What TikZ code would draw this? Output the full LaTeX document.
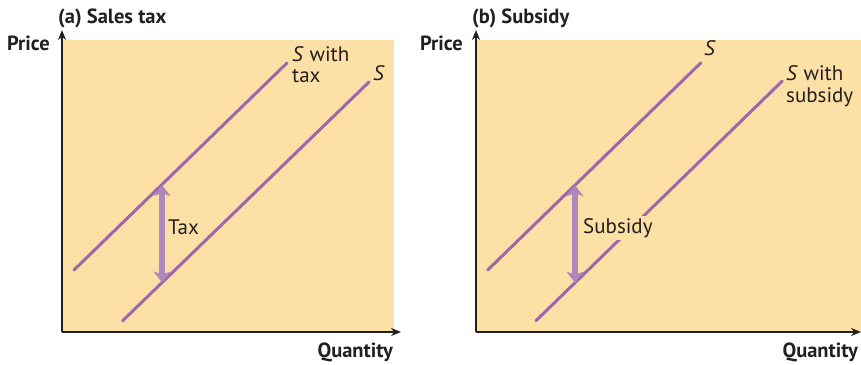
\documentclass[tikz,border=0pt]{standalone}
\usepackage{fontspec}
\setmainfont{PT Sans}
\usetikzlibrary{arrows.meta}
\definecolor{bg}{RGB}{253,224,165}
\definecolor{sup}{RGB}{160,102,170}
\definecolor{arr}{RGB}{174,136,188}
\definecolor{axis}{RGB}{35,31,32}
\begin{document}
\begin{tikzpicture}[x=1pt,y=-1pt,
  axisline/.style={draw=axis,line width=2.2pt,-{Stealth[length=10pt,width=8pt]}},
  supply/.style={draw=sup,line width=3pt,line cap=round},
  gaparrow/.style={draw=arr,line width=5.5pt,{Stealth[length=11pt,width=17pt,inset=3pt]}-{Stealth[length=11pt,width=17pt,inset=3pt]}},
  ttl/.style={font=\fontsize{20.5}{22}\selectfont\bfseries,inner sep=0pt,text=axis},
  lbl/.style={font=\fontsize{21}{23}\selectfont,inner sep=0pt,text=axis},
]
\useasboundingbox (0,0) rectangle (861,364);
% backgrounds
\fill[bg] (62,40) rectangle (394,332);
\fill[bg] (476,40) rectangle (861,332);
% ---- panel (a)
\coordinate (oa) at (62,332);
\coordinate (ya) at (62,30);
\coordinate (xa) at (401,332);
\draw[axisline] (oa) -- (ya);
\draw[axisline] (62,332) -- (xa);
\coordinate (a1) at (74,270);
\coordinate (a2) at (287,63);
\coordinate (b1) at (122.7,320.7);
\coordinate (b2) at (369,82);
\draw[supply] (a1) -- (a2);
\draw[supply] (b1) -- (b2);
\coordinate (t1) at (162,185);
\coordinate (t2) at (162,282.5);
\draw[gaparrow] (t1) -- (t2);
\node[lbl,anchor=west] (tax) at (168,227) {Tax};
\node[lbl,anchor=base west] (swt1) at (292,61) {\textit{S} with};
\node[lbl,anchor=base west] (swt2) at (292,82) {tax};
\node[lbl,anchor=base west] (sa) at (373,80) {\textit{S}};
\node[ttl,anchor=base west] (tta) at (58,23) {(a) Sales tax};
\node[ttl,anchor=base east] (pra) at (50,50) {Price};
\node[ttl,anchor=base east] (qa) at (393,357) {Quantity};
% ---- panel (b)
\coordinate (ob) at (476,332);
\coordinate (yb) at (476,30);
\coordinate (xb) at (861,332);
\draw[axisline] (ob) -- (yb);
\draw[axisline] (476,332) -- (xb);
\coordinate (c1) at (487.7,270);
\coordinate (c2) at (700.7,63);
\coordinate (d1) at (536,320.7);
\coordinate (d2) at (782.3,81);
\draw[supply] (c1) -- (c2);
\draw[supply] (d1) -- (d2);
\coordinate (u1) at (575,185.2);
\coordinate (u2) at (575,282.7);
\draw[gaparrow] (u1) -- (u2);
\node[lbl,anchor=west,fill=bg,inner sep=2pt] (sub) at (581,228) {Subsidy};
\node[lbl,anchor=base west] (sb) at (704,55) {\textit{S}};
\node[lbl,anchor=base west] (sws1) at (786,80) {\textit{S} with};
\node[lbl,anchor=base west] (sws2) at (786,102) {subsidy};
\node[ttl,anchor=base west] (ttb) at (472,23) {(b) Subsidy};
\node[ttl,anchor=base east] (prb) at (463,50) {Price};
\node[ttl,anchor=base east] (qb) at (858,357) {Quantity};
\end{tikzpicture}
\end{document}
